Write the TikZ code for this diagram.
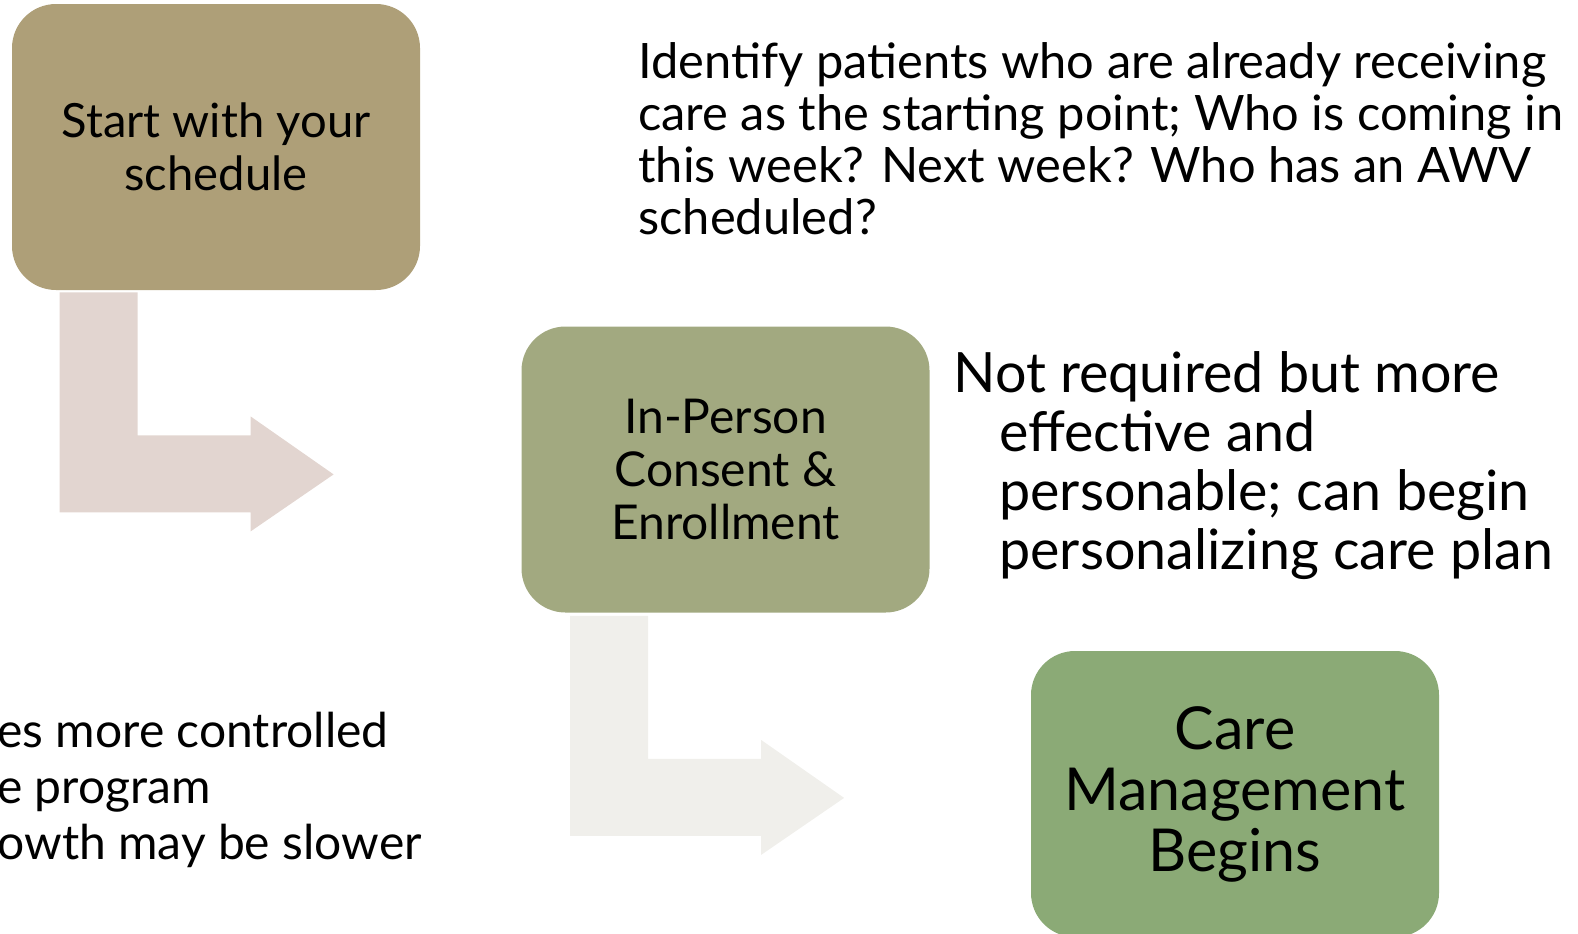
\documentclass[tikz,border=0pt]{standalone}
\usepackage{fontspec}
\usepackage{tikz}
\usetikzlibrary{calc}
\setmainfont{Lato}
\definecolor{tanbox}{HTML}{AE9F78}
\definecolor{olivebox}{HTML}{A2A980}
\definecolor{greenbox}{HTML}{8BAA76}
\definecolor{arrowrose}{HTML}{E2D5D0}
\definecolor{arrowstone}{HTML}{F0EFEB}

\tikzset{
  stepbox/.style={rounded corners=22pt, minimum width=204pt, minimum height=143pt,
    align=center, inner sep=0pt, text=black},
  note/.style={anchor=north west, align=left, inner sep=0pt, text=black},
  bentarrow/.pic={
    \fill (0,0) -- (78,0) -- (78,143) -- (191,143) -- (191,124) -- (274,182)
      -- (191,239) -- (191,220) -- (0,220) -- cycle;
  }
}

\begin{document}
\begin{tikzpicture}[x=0.5pt, y=-0.5pt]
\useasboundingbox (0,0) rectangle (1578,933);

% Steps
\node[stepbox, fill=tanbox, font=\fontsize{23.6}{26.5}\selectfont] (schedule) at (216,147) {Start with your\\schedule};
\node[stepbox, fill=olivebox, font=\fontsize{24}{26.5}\selectfont] (consent) at (725.5,469.5) {In-Person\\Consent \&\\Enrollment};
\node[stepbox, fill=greenbox, font=\fontsize{29.6}{30.5}\selectfont] (care) at (1235,794) {Care\\Management\\Begins};

% Bent arrows between the steps
\pic[fill=arrowrose] at ($(schedule.south west)+(48,2)$) {bentarrow};
\pic[fill=arrowstone] at ($(consent.south west)+(49,3)$) {bentarrow};

% Notes
\node[note, font=\fontsize{24.4}{26}\selectfont] (identify) at (638,42)
  {Identify patients who are already receiving\\care as the starting point; Who is coming in\\this week? Next week? Who has an AWV\\scheduled?};
\node[note, font=\fontsize{27.8}{29.5}\selectfont] (personal) at (953,351)
  {Not required but more\\\hspace*{23pt}effective and\\\hspace*{23pt}personable; can begin\\\hspace*{23pt}personalizing care plan};
\node[note, font=\fontsize{24}{28}\selectfont] (growth) at (-3,712)
  {es more controlled\\e program\\owth may be slower};
\end{tikzpicture}
\end{document}
